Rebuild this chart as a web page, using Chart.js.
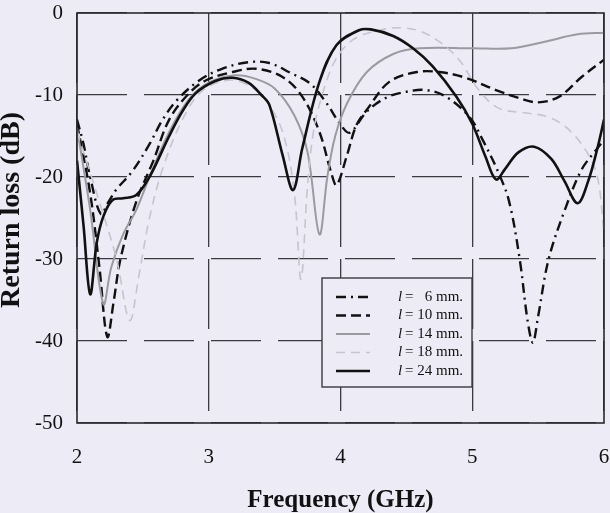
<!DOCTYPE html>
<html>
<head>
<meta charset="utf-8">
<script src="https://cdn.jsdelivr.net/npm/chart.js@4.4.1/dist/chart.umd.min.js"></script>
<style>
  html, body { margin: 0; padding: 0; background: #edecf6; }
  #wrap { width: 610px; height: 513px; }
</style>
</head>
<body>
<div id="wrap"><canvas id="c" width="610" height="513"></canvas></div>
<script>
// series labels (l = strip length)
const lengths = ['6', '10', '14', '18', '24'];

// [frequency GHz, return loss dB]
const l6 = [[2,-13],[2.05,-16],[2.1,-20],[2.18,-24.5],[2.24,-23],[2.3,-21.5],[2.42,-19.3],[2.55,-16],
  [2.65,-13],[2.76,-10.6],[2.93,-8.2],[3.1,-6.8],[3.3,-6],[3.46,-6.1],[3.62,-7.3],[3.77,-8.6],
  [3.89,-10.9],[4.0,-13.6],[4.07,-14.6],[4.2,-12],[4.35,-10.3],[4.5,-9.6],[4.65,-9.4],[4.8,-10.2],
  [4.98,-12.7],[5.08,-15.5],[5.2,-19.5],[5.28,-23],[5.36,-30],[5.42,-37.5],[5.46,-40.2],[5.5,-37],
  [5.58,-30],[5.71,-23.7],[5.83,-19.1],[5.94,-16.7],[6,-15.5]];
const l10 = [[2,-13.5],[2.1,-22],[2.17,-31],[2.23,-39.5],[2.28,-35],[2.33,-30],[2.45,-23],[2.58,-18],
  [2.7,-13],[2.85,-9.8],[2.98,-8.2],[3.18,-7.2],[3.36,-6.8],[3.56,-7.8],[3.71,-10.2],[3.84,-14.5],
  [3.93,-19.5],[3.97,-21],[4.05,-17.3],[4.12,-13.7],[4.2,-11.8],[4.37,-8.4],[4.58,-7.2],[4.75,-7.2],
  [4.95,-7.9],[5.18,-9.4],[5.36,-10.4],[5.5,-10.9],[5.66,-10.2],[5.83,-7.8],[6,-5.7]];
const l14 = [[2,-14],[2.1,-24],[2.2,-35.5],[2.26,-31],[2.35,-27],[2.45,-24],[2.55,-20],[2.7,-14.5],
  [2.85,-10.5],[3.0,-8.5],[3.2,-7.6],[3.35,-8],[3.5,-9.2],[3.65,-12.5],[3.75,-17],[3.84,-27],
  [3.9,-20],[3.96,-15],[4.05,-11],[4.2,-7.2],[4.4,-5],[4.6,-4.3],[5.0,-4.3],[5.3,-4.3],
  [5.55,-3.5],[5.8,-2.6],[6,-2.4]];
const l18 = [[2,-14.5],[2.15,-22],[2.3,-30],[2.4,-37.5],[2.47,-32],[2.55,-25],[2.65,-19],[2.8,-13],
  [2.95,-9.5],[3.15,-8.2],[3.3,-8.8],[3.45,-11],[3.57,-15],[3.65,-22],[3.7,-32.5],[3.75,-21],
  [3.8,-14],[3.88,-9],[3.97,-5.5],[4.1,-3.2],[4.3,-2.1],[4.45,-1.8],[4.6,-2.2],[4.75,-3.5],
  [4.9,-5.7],[5.05,-9.4],[5.2,-11.6],[5.41,-12.2],[5.56,-12.6],[5.71,-13.9],[5.86,-16.7],
  [5.95,-20],[6,-27]];
const l24 = [[2,-18],[2.05,-26],[2.1,-34.3],[2.15,-28],[2.2,-24.8],[2.27,-22.8],[2.35,-22.6],
  [2.45,-22.2],[2.55,-20],[2.7,-15],[2.8,-12],[2.9,-9.8],[3.05,-8.3],[3.18,-7.9],[3.3,-8.5],
  [3.4,-10],[3.46,-11.2],[3.56,-17.3],[3.64,-21.6],[3.71,-16.5],[3.84,-8.4],[3.97,-3.9],[4.14,-2.1],
  [4.23,-2.0],[4.4,-2.8],[4.55,-4.3],[4.7,-6.5],[4.88,-10.2],[5.0,-13.5],[5.1,-17.5],[5.18,-20.3],
  [5.25,-19],[5.35,-17],[5.47,-16.3],[5.6,-17.8],[5.7,-20.5],[5.8,-23.2],[5.88,-20.5],[5.95,-16.5],[6,-13]];

const xTicks = [2, 3, 4, 5, 6];
const yTicks = [0, -10, -20, -30, -40, -50];

const BG = '#edecf6';
const serif = '"Liberation Serif", "Times New Roman", serif';

const toPts = arr => arr.map(p => ({ x: p[0], y: p[1] }));

const styles = [
  { color: '#111', width: 2.4, dash: [10, 5, 2, 5] },
  { color: '#111', width: 2.4, dash: [10, 5] },
  { color: '#9a9aa0', width: 2, dash: [] },
  { color: '#c6c5cf', width: 1.6, dash: [9, 6] },
  { color: '#111', width: 2.6, dash: [] },
];
const series = [l6, l10, l14, l18, l24];

const datasets = series.map((s, i) => ({
  label: 'l = ' + lengths[i] + ' mm.',
  data: toPts(s),
  borderColor: styles[i].color,
  borderWidth: styles[i].width,
  borderDash: styles[i].dash,
  pointRadius: 0,
  showLine: true,
  tension: 0.35,
  fill: false,
  order: 5 - i,
}));

const decor = {
  id: 'decor',
  beforeDraw(chart) {
    const ctx = chart.ctx;
    ctx.save();
    ctx.fillStyle = BG;
    ctx.fillRect(0, 0, chart.width, chart.height);
    ctx.restore();
  },
  afterDraw(chart) {
    const { ctx, chartArea: a } = chart;
    ctx.save();
    // frame
    ctx.strokeStyle = '#2a2a2e';
    ctx.lineWidth = 1.6;
    ctx.setLineDash([]);
    ctx.strokeRect(a.left, a.top, a.right - a.left, a.bottom - a.top);

    // axis titles
    ctx.fillStyle = '#111';
    ctx.font = 'bold 25px ' + serif;
    ctx.textAlign = 'center';
    ctx.textBaseline = 'alphabetic';
    ctx.fillText('Frequency (GHz)', (a.left + a.right) / 2, 507);
    ctx.save();
    ctx.font = 'bold 28px ' + serif;
    ctx.translate(19, 210);
    ctx.rotate(-Math.PI / 2);
    ctx.fillText('Return loss (dB)', 0, 0);
    ctx.restore();

    // legend box
    const bx = 322, by = 278, bw = 150, bh = 109;
    ctx.fillStyle = BG;
    ctx.fillRect(bx, by, bw, bh);
    ctx.strokeStyle = '#3a3a40';
    ctx.lineWidth = 1.4;
    ctx.strokeRect(bx, by, bw, bh);
    chart.data.datasets.forEach((ds, i) => {
      const y = by + 19 + i * 18.5;
      ctx.strokeStyle = ds.borderColor;
      ctx.lineWidth = ds.borderWidth;
      ctx.setLineDash(ds.borderDash);
      ctx.beginPath();
      ctx.moveTo(336, y);
      ctx.lineTo(370, y);
      ctx.stroke();
      ctx.setLineDash([]);
      ctx.fillStyle = '#111';
      ctx.textBaseline = 'middle';
      ctx.textAlign = 'left';
      ctx.font = 'italic 15px ' + serif;
      ctx.fillText('l', 398, y);
      ctx.font = '15px ' + serif;
      const num = lengths[i].length < 2 ? '\u2007' + lengths[i] : lengths[i];
      ctx.fillText('= ' + num + ' mm.', 405, y);
    });
    ctx.restore();
  }
};

new Chart(document.getElementById('c'), {
  type: 'scatter',
  data: { datasets },
  options: {
    responsive: false,
    animation: false,
    layout: { padding: { top: 13, right: 6, left: 0, bottom: 0 } },
    plugins: { legend: { display: false }, tooltip: { enabled: false } },
    scales: {
      x: {
        type: 'linear', min: 2, max: 6,
        afterBuildTicks: s => { s.ticks = xTicks.map(v => ({ value: v })); },
        afterFit: s => { s.height = 90; s.paddingLeft = 0; s.paddingRight = 0; },
        ticks: { color: '#111', font: { family: serif, size: 21 }, padding: 22 },
        grid: { color: '#3a3a40', lineWidth: 1.3, drawTicks: false },
        border: { display: false, dash: [70, 12] },
      },
      y: {
        type: 'linear', min: -50, max: 0,
        afterBuildTicks: s => { s.ticks = yTicks.map(v => ({ value: v })); },
        afterFit: s => { s.width = 77; s.paddingTop = 0; s.paddingBottom = 0; },
        ticks: { color: '#111', font: { family: serif, size: 21 }, padding: 14 },
        grid: { color: '#3a3a40', lineWidth: 1.3, drawTicks: false },
        border: { display: false, dash: [50, 17] },
      },
    },
  },
  plugins: [decor],
});
</script>
</body>
</html>
